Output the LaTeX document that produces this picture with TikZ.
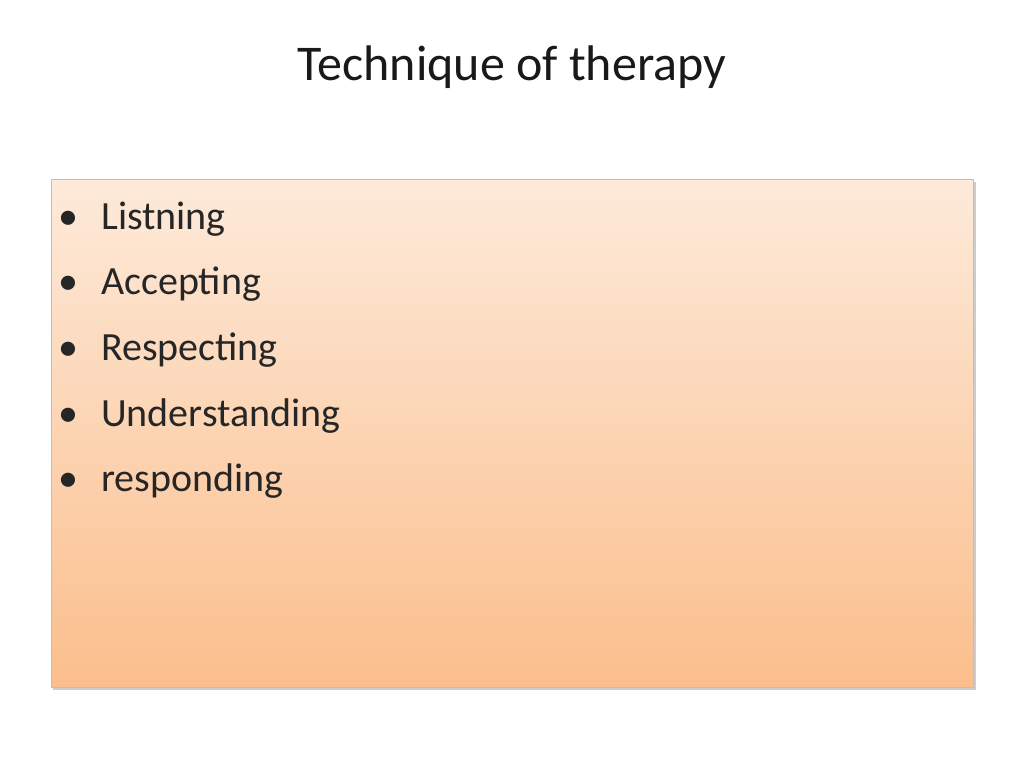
\documentclass[tikz,border=0pt]{standalone}
\usepackage{fontspec}
\setmainfont{Carlito}
\begin{document}
\begin{tikzpicture}[x=1pt,y=-1pt,
  item/.style={anchor=base west,inner sep=0,font=\fontsize{40}{48}\selectfont,text=black!85},
  dot/.style={anchor=base,inner sep=0,font=\fontsize{40}{48}\selectfont,text=black!85}]
\useasboundingbox (0,0) rectangle (1024,768);
\definecolor{topc}{RGB}{253,234,218}
\definecolor{botc}{RGB}{251,190,140}
\definecolor{edgec}{RGB}{240,178,128}
\fill[black!20] (53,182) rectangle (976,690);
\node[draw=edgec,line width=1pt,top color=topc,bottom color=botc,minimum width=922,minimum height=508,inner sep=0,anchor=north west] (box) at (51,179) {};
\node[anchor=base,inner sep=0,font=\fontsize{50}{60}\selectfont,text=black!90] (title) at (512,81) {Technique of therapy};
\foreach \t [count=\i] in {Listning,Accepting,Respecting,Understanding,responding}{
  \node[dot] (b\i) at (68,229+65.7*\i-65.7) {•};
  \node[item] (t\i) at (101,229+65.7*\i-65.7) {\t};
}
\end{tikzpicture}
\end{document}
